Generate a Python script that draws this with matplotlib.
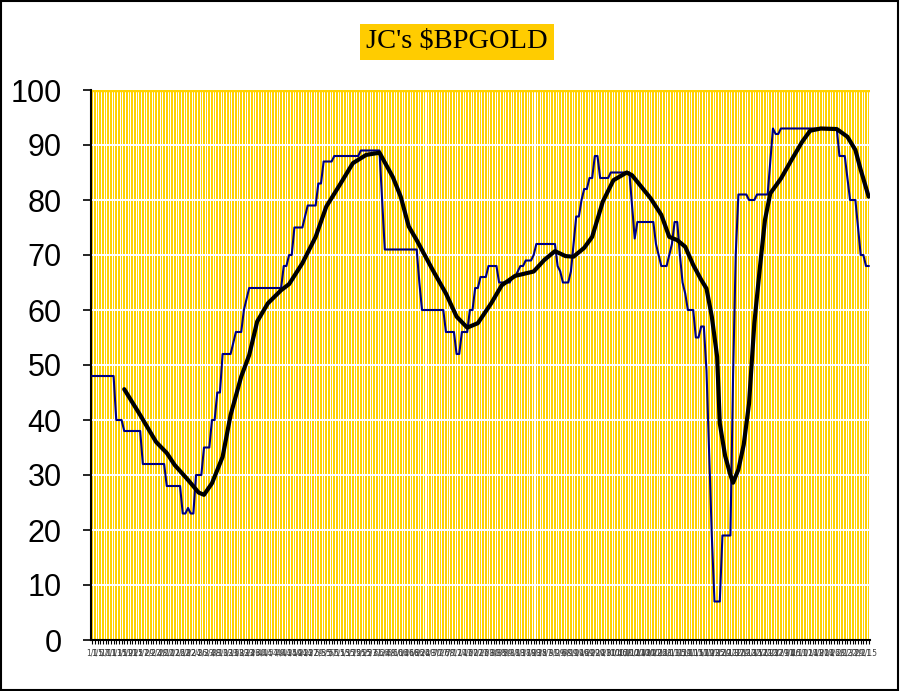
import numpy as np
import pandas as pd
import matplotlib.pyplot as plt
from matplotlib.patches import Rectangle

# blue line: daily values stored as (value, number of days) runs
run_values = [48, 40, 38, 32, 28, 23, 24, 23, 30, 35, 40, 45, 52, 54, 56, 60, 62, 64,
              68, 70, 75, 77, 79, 83, 87, 88, 89, 80, 71, 65, 60, 56, 52, 56, 60, 64,
              66, 68, 65, 66, 67, 68, 69, 70, 72, 68, 67, 65, 67, 72, 77, 80, 82, 84,
              88, 84, 85, 79, 73, 76, 72, 70, 68, 70, 72, 76, 70, 65, 63, 60, 55, 57,
              49, 34, 19, 7, 19, 48, 70, 81, 80, 81, 87, 93, 92, 93, 88, 84, 80, 75,
              70, 68]
run_counts = [9, 3, 7, 9, 6, 2, 1, 2, 3, 3, 2, 2, 4, 1, 3, 1, 1, 13,
              2, 2, 4, 1, 4, 2, 4, 10, 8, 1, 13, 1, 9, 4, 2, 3, 2, 2,
              3, 4, 5, 2, 1, 2, 3, 1, 8, 1, 1, 3, 1, 1, 2, 1, 2, 2,
              2, 4, 8, 1, 1, 7, 1, 1, 3, 1, 1, 2, 1, 1, 1, 3, 2, 2,
              1, 1, 1, 3, 4, 1, 1, 4, 3, 5, 1, 1, 2, 22, 3, 1, 3, 1,
              2, 2]
bpgold = np.repeat(run_values, run_counts)
n = len(bpgold)

# black line: moving average read at these day positions
ma_idx = [12, 18, 24, 28, 31, 36, 40, 42, 45, 49, 52, 56, 59, 62, 66, 71, 74, 79,
          84, 88, 93, 98, 103, 108, 113, 116, 119, 122, 128, 133, 137, 141, 145, 150,
          154, 159, 166, 170, 174, 178, 181, 185, 188, 192, 196, 201, 203, 206, 210,
          214, 217, 220, 223, 226, 229, 231, 233, 235, 236, 238, 240, 241, 243, 245,
          247, 249, 251, 253, 255, 259, 263, 267, 270, 274, 280, 284, 287, 289, 292]
ma_val = [45.6, 40.9, 36.0, 34.0, 31.8, 29.1, 26.8, 26.4, 28.5, 33.3, 40.9, 47.9, 51.8,
          57.9, 61.2, 63.6, 64.7, 68.5, 73.3, 78.8, 82.7, 86.7, 88.2, 88.6, 84.2, 80.6,
          75.2, 72.7, 67.3, 63.0, 58.8, 56.8, 57.6, 61.2, 64.5, 66.2, 67.0, 69.1, 70.7,
          69.8, 69.7, 71.3, 73.3, 79.7, 83.6, 85.0, 84.5, 82.7, 80.3, 77.3, 73.3, 72.7,
          71.5, 68.2, 65.5, 63.9, 58.8, 51.5, 39.4, 33.5, 30.0, 28.6, 31.0, 35.5, 43.0,
          57.6, 67.3, 76.4, 81.2, 83.9, 87.3, 90.6, 92.6, 93.0, 92.9, 91.5, 89.1, 85.5,
          80.6]

dates = pd.bdate_range('2021-01-01', periods=n)
date_labels = [f"{d.month}/{d.day}" for d in dates]

fig = plt.figure(figsize=(9, 6.91), dpi=100)
ax = fig.add_axes([91 / 900, 1 - 640 / 691, 779 / 900, 550 / 691])

x = np.arange(n)
ax.bar(x, 100, width=0.62, color='#FFD200', zorder=1)
for lvl in range(10, 100, 10):
    ax.axhline(lvl, color='white', lw=1.4, zorder=2)
ax.axhline(100, color='#FFD200', lw=2.5, zorder=2)

ax.plot(x, bpgold, color='#000080', lw=1.5, zorder=3)
ax.plot(ma_idx, ma_val, color='black', lw=3.0, zorder=4,
        solid_joinstyle='round', solid_capstyle='round')

ax.set_xlim(-0.5, n - 0.5)
ax.set_ylim(0, 100)
ax.set_yticks(range(0, 101, 10))
ax.tick_params(axis='y', labelsize=22, length=6, width=1.2, pad=15)
for lab in ax.get_yticklabels():
    lab.set_fontfamily('Liberation Sans')

ax.set_xticks(x[::2])
ax.set_xticklabels(date_labels[::2], fontsize=5.5, color='#404040',
                   family='Liberation Sans Narrow')
ax.set_xticks(x, minor=True)
ax.tick_params(axis='x', which='both', length=3, width=0.8, pad=3)

for side in ['top', 'right']:
    ax.spines[side].set_visible(False)
ax.spines['left'].set_linewidth(1.5)
ax.spines['bottom'].set_linewidth(1.5)

fig.text(457 / 900, 1 - 42 / 691, "JC's $BPGOLD", family='Liberation Serif', fontsize=20.5,
         ha='center', va='center',
         bbox=dict(boxstyle='square,pad=0.2', facecolor='#FFCC00', edgecolor='none'))

fig.add_artist(Rectangle((0.001, 0.002), 0.997, 0.996, transform=fig.transFigure,
                         fill=False, edgecolor='black', lw=1.5))

fig.savefig('out.png', dpi=100)
